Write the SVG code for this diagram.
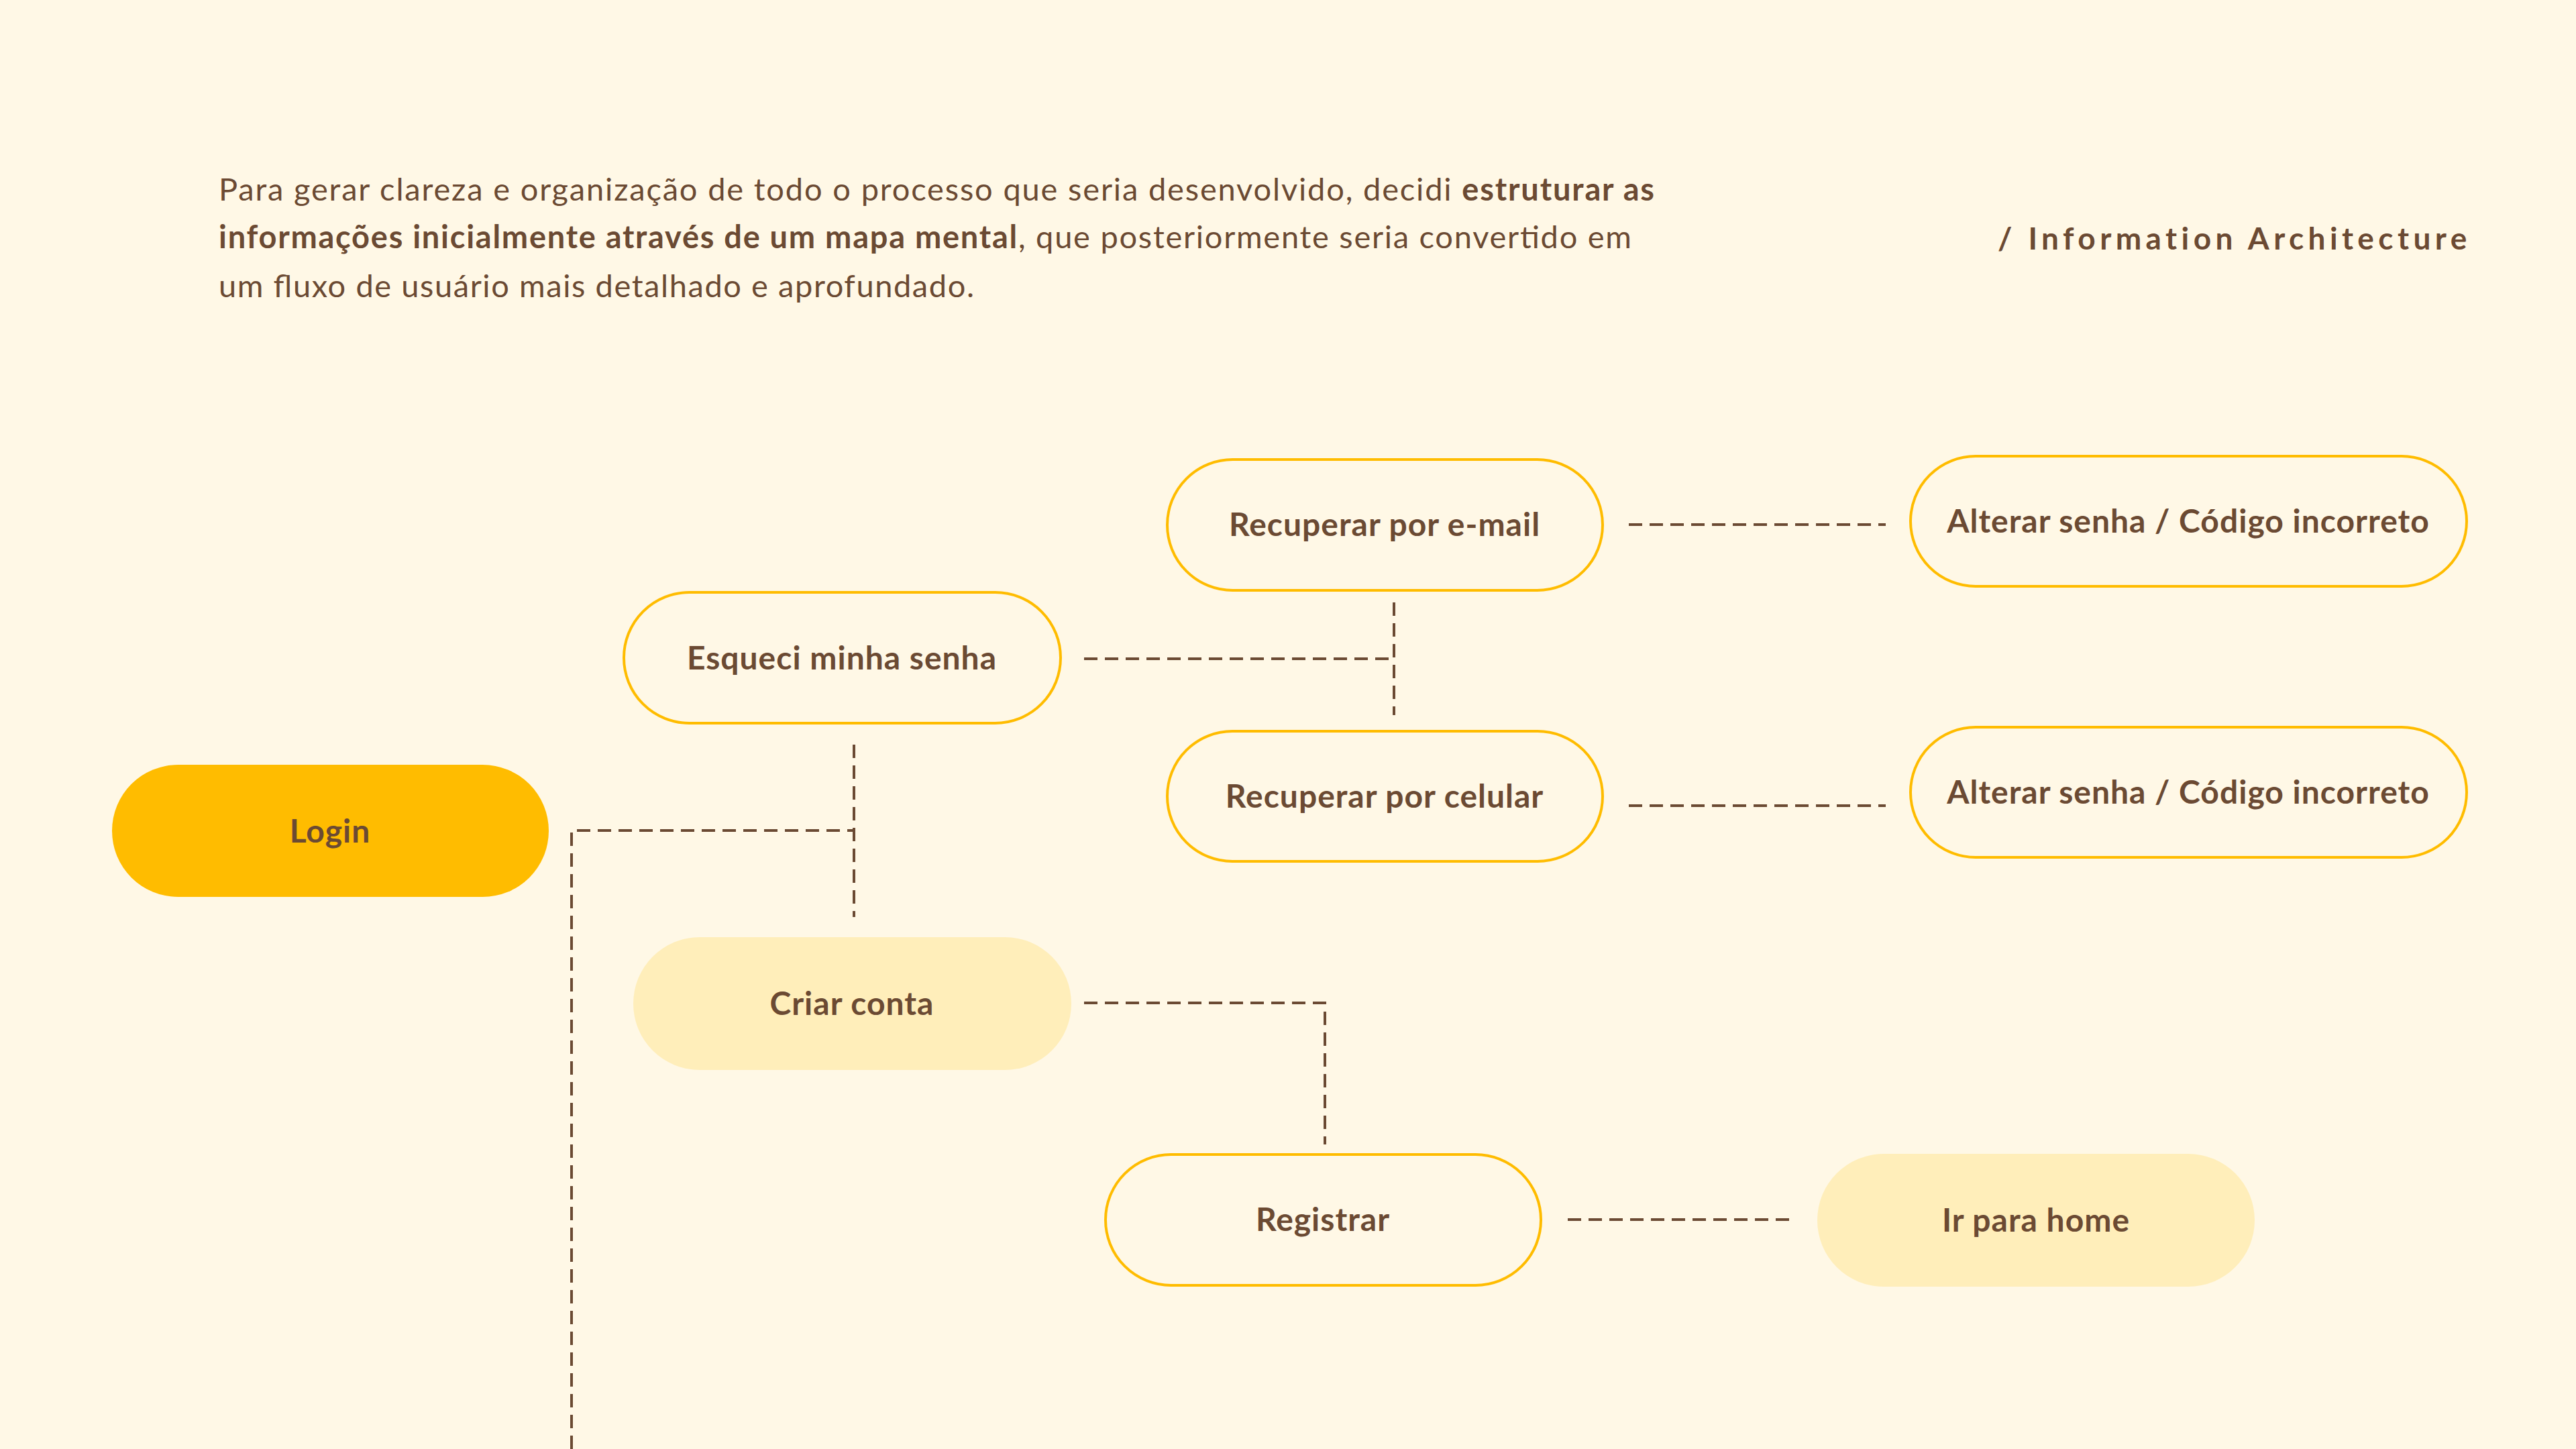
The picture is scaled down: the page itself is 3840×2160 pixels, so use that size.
<svg xmlns="http://www.w3.org/2000/svg" width="3840" height="2160" viewBox="0 0 3840 2160">
<style>
.bg{fill:#FFF8E6}
.txt{font-family:Lato,"Liberation Sans",sans-serif;fill:#6B4A33}
.intro{font-size:47px}
.b{font-weight:700}
.title{font-size:46px;font-weight:700;letter-spacing:6.4px}
.lbl{font-size:48px;font-weight:700;text-anchor:middle;letter-spacing:1px}
.out{fill:none;stroke:#FFBC00;stroke-width:4}
.main{fill:#FFBC00}
.soft{fill:#FFEEBA}
.conn{fill:none;stroke:#6B4A33;stroke-width:4;stroke-dasharray:20 11}
</style>
<rect class="bg" x="0" y="0" width="3840" height="2160"/>
<g id="intro">
<text class="txt intro" x="326" y="299" textLength="2140" lengthAdjust="spacing">Para gerar clareza e organização de todo o processo que seria desenvolvido, decidi <tspan class="b">estruturar as</tspan></text>
<text class="txt intro" x="326" y="370" textLength="2106" lengthAdjust="spacing"><tspan class="b">informações inicialmente através de um mapa mental</tspan>, que posteriormente seria convertido em</text>
<text class="txt intro" x="326" y="443" textLength="1126" lengthAdjust="spacing">um fluxo de usuário mais detalhado e aprofundado.</text>
</g>
<g id="title">
<text class="txt title" x="2978" y="372">/ Information Architecture</text>
</g>
<g id="connectors">
<path class="conn" d="M852 2160 V1238 H1273"/>
<path class="conn" d="M1273 1110 V1367"/>
<path class="conn" d="M1616 982 H2078"/>
<path class="conn" d="M2078 898 V1066"/>
<path class="conn" d="M2428 782 H2811"/>
<path class="conn" d="M2428 1201 H2811"/>
<path class="conn" d="M1616 1495 H1975 V1706"/>
<path class="conn" d="M2337 1818 H2671"/>
</g>
<g id="login">
<rect class="main" x="167" y="1140" width="651" height="197" rx="98.5"/>
<text class="txt lbl" x="492" y="1256">Login</text>
</g>
<g id="esqueci">
<rect class="out" x="930" y="883" width="651" height="195" rx="97.5"/>
<text class="txt lbl" x="1255" y="998">Esqueci minha senha</text>
</g>
<g id="rec-email">
<rect class="out" x="1740" y="685" width="649" height="195" rx="97.5"/>
<text class="txt lbl" x="2064" y="799">Recuperar por e-mail</text>
</g>
<g id="rec-celular">
<rect class="out" x="1740" y="1090" width="649" height="194" rx="97"/>
<text class="txt lbl" x="2064" y="1204">Recuperar por celular</text>
</g>
<g id="alterar-1">
<rect class="out" x="2848" y="680" width="829" height="194" rx="97"/>
<text class="txt lbl" x="3262" y="794">Alterar senha / Código incorreto</text>
</g>
<g id="alterar-2">
<rect class="out" x="2848" y="1084" width="829" height="194" rx="97"/>
<text class="txt lbl" x="3262" y="1198">Alterar senha / Código incorreto</text>
</g>
<g id="criar">
<rect class="soft" x="944" y="1397" width="653" height="198" rx="99"/>
<text class="txt lbl" x="1270" y="1513">Criar conta</text>
</g>
<g id="registrar">
<rect class="out" x="1648" y="1721" width="649" height="195" rx="97.5"/>
<text class="txt lbl" x="1972" y="1835">Registrar</text>
</g>
<g id="home">
<rect class="soft" x="2709" y="1720" width="652" height="198" rx="99"/>
<text class="txt lbl" x="3035" y="1836">Ir para home</text>
</g>
</svg>
